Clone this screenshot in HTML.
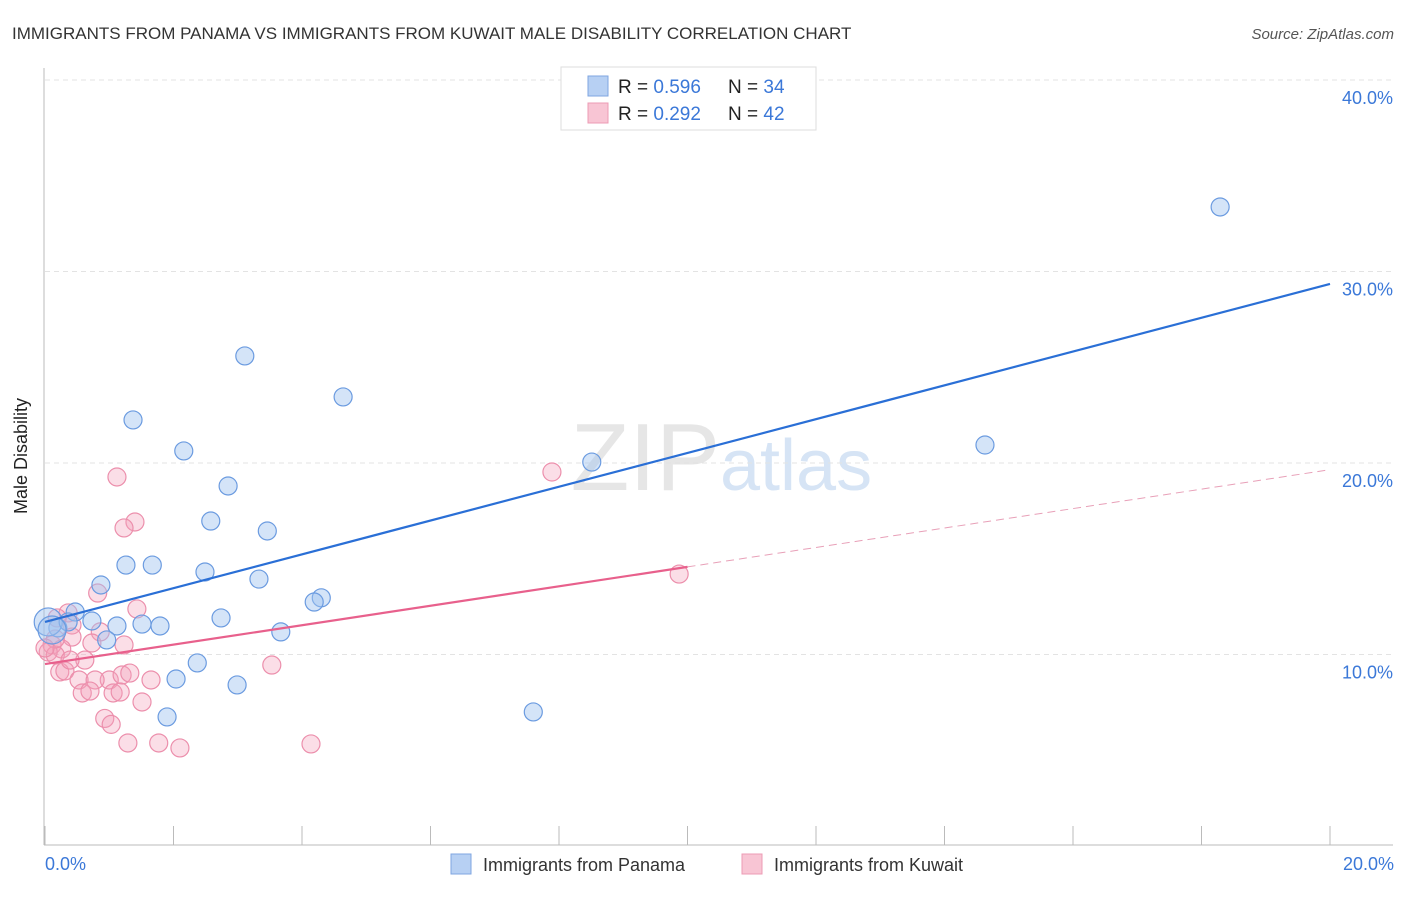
<!DOCTYPE html>
<html><head><meta charset="utf-8"><style>
body{margin:0;background:#fff;font-family:"Liberation Sans",sans-serif;}
svg text{font-family:"Liberation Sans",sans-serif;}
</style></head><body>
<svg id="chart" width="1406" height="892" xmlns="http://www.w3.org/2000/svg">
<text x="12" y="39" font-size="17" fill="#333">IMMIGRANTS FROM PANAMA VS IMMIGRANTS FROM KUWAIT MALE DISABILITY CORRELATION CHART</text>
<text x="1394" y="39" font-size="15" fill="#555" font-style="italic" text-anchor="end">Source: ZipAtlas.com</text>
<text x="720" y="490" font-size="96" fill="#e6e6e6" font-family="Liberation Serif" text-anchor="end">ZIP</text>
<text x="720" y="490" font-size="72" fill="#d6e4f5">atlas</text>
<g id="grid"></g>
<line x1="44" y1="68" x2="44" y2="845" stroke="#bbb"/>
<line x1="44" y1="845" x2="1393" y2="845" stroke="#bbb"/>
<g id="xticks"></g>
<text x="27" y="456" font-size="18" fill="#222" text-anchor="middle" transform="rotate(-90 27 456)">Male Disability</text>
<text x="45" y="870" font-size="18" fill="#3b78d8">0.0%</text>
<text x="1394" y="870" font-size="18" fill="#3b78d8" text-anchor="end">20.0%</text>
<g id="pts"></g>
<g id="lines"></g>
<g>
<rect x="561" y="67" width="255" height="63" fill="#fff" stroke="#ddd"/>
<rect x="588" y="76" width="20" height="20" fill="#b7d0f3" stroke="#7fa6e0"/>
<rect x="588" y="103" width="20" height="20" fill="#f8c5d4" stroke="#ec9bb4"/>
<text x="618" y="93" font-size="19" fill="#222">R = <tspan fill="#3b78d8">0.596</tspan></text>
<text x="728" y="93" font-size="19" fill="#222">N = <tspan fill="#3b78d8">34</tspan></text>
<text x="618" y="120" font-size="19" fill="#222">R = <tspan fill="#3b78d8">0.292</tspan></text>
<text x="728" y="120" font-size="19" fill="#222">N = <tspan fill="#3b78d8">42</tspan></text>
</g>
<g>
<rect x="451" y="854" width="20" height="20" fill="#b7d0f3" stroke="#7fa6e0"/>
<text x="483" y="871" font-size="18" fill="#333">Immigrants from Panama</text>
<rect x="742" y="854" width="20" height="20" fill="#f8c5d4" stroke="#ec9bb4"/>
<text x="774" y="871" font-size="18" fill="#333">Immigrants from Kuwait</text>
</g>
</svg>
<script>
const yTicks=[10,20,30,40];
const yTickLabels=["10.0%","20.0%","30.0%","40.0%"];
const xTickVals=[0,2,4,6,8,10,12,14,16,18,20];
const panamaX=[18.29,3.11,4.64,1.37,2.16,14.63,8.51,2.85,2.58,3.46,1.26,1.67,2.49,3.33,0.87,4.30,4.19,0.47,2.74,0.73,1.12,1.51,1.79,3.67,0.96,0.20,0.05,0.36,2.37,2.04,2.99,1.90,7.60,0.11];
const panamaY=[33.37,25.59,23.45,22.25,20.63,20.94,20.05,18.80,16.97,16.45,14.67,14.67,14.31,13.94,13.63,12.96,12.74,12.22,11.91,11.75,11.49,11.59,11.49,11.18,10.76,11.39,11.70,11.70,9.56,8.72,8.41,6.74,7.00,11.28];
const kuwaitX=[9.87,7.89,1.12,1.40,1.23,0.82,1.43,0.36,0.42,0.19,0.86,0.42,0.73,1.23,0.11,0.26,0.05,0.16,0.62,0.23,0.31,0.53,1.00,1.20,1.32,1.65,0.78,0.58,0.70,1.06,1.17,1.51,0.93,1.03,1.29,1.77,2.10,4.14,3.53,0.16,0.39,0];
const kuwaitY=[14.20,19.53,19.27,16.92,16.61,13.21,12.38,12.17,11.54,11.91,11.18,10.91,10.60,10.50,10.50,10.29,10.13,9.97,9.71,9.09,9.14,8.67,8.67,8.93,9.03,8.67,8.67,7.99,8.09,7.99,8.04,7.52,6.66,6.35,5.38,5.38,5.12,5.33,9.45,10.81,9.71,10.34];
const panamaTrend=[11.70,29.35];
const kuwaitTrend=[9.50,19.65];
const kuwaitSolidEnd=10;
const NS="http://www.w3.org/2000/svg";
const sx=v=>45+v/20*1285, sy=v=>846-v/40*766;
function mk(tag,attrs,parent){const e=document.createElementNS(NS,tag);for(const k in attrs)e.setAttribute(k,attrs[k]);document.getElementById(parent).appendChild(e);return e;}
yTicks.forEach((t,i)=>{
 const l=mk('line',{x1:45,x2:1393,y1:sy(t),y2:sy(t),stroke:'#e3e3e3','stroke-dasharray':'5,4'},'grid');
 
 
 const tx=mk('text',{x:1393,y:sy(t)+24,'font-size':18,fill:'#3b78d8','text-anchor':'end'},'grid');
 tx.textContent=yTickLabels[i];
 
 
});
xTickVals.forEach(v=>{
 const l=mk('line',{x1:sx(v),x2:sx(v),y1:826,y2:845,stroke:'#bbb'},'xticks');
 
 
});
function dots(xs,ys,fill,stroke,name){
 xs.forEach((x,i)=>{
  const big=(x<0.15&&Math.abs(ys[i]-11.5)<0.4&&name==='panama-point');
  const c=mk('circle',{cx:sx(x),cy:sy(ys[i]),r:big?14:9,fill:fill,stroke:stroke,'stroke-width':1.2},'pts');
  
  
 });
}
dots(kuwaitX,kuwaitY,'rgba(244,160,185,0.35)','#ec8fac','kuwait-point');
dots(panamaX,panamaY,'rgba(160,195,240,0.45)','#6b9be0','panama-point');
let l=mk('line',{x1:sx(0),y1:sy(panamaTrend[0]),x2:sx(20),y2:sy(panamaTrend[1]),stroke:'#2a6fd6','stroke-width':2.2},'lines');


const km=kuwaitTrend[0]+(kuwaitTrend[1]-kuwaitTrend[0])*kuwaitSolidEnd/20;
l=mk('line',{x1:sx(0),y1:sy(kuwaitTrend[0]),x2:sx(kuwaitSolidEnd),y2:sy(km),stroke:'#e8608c','stroke-width':2.2},'lines');


l=mk('line',{x1:sx(kuwaitSolidEnd),y1:sy(km),x2:sx(20),y2:sy(kuwaitTrend[1]),stroke:'#e8a0b8','stroke-width':1,'stroke-dasharray':'8,5'},'lines');


</script>
</body></html>
